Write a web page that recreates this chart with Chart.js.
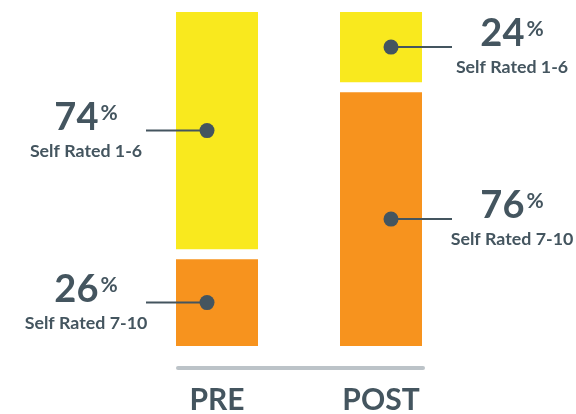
<!DOCTYPE html>
<html>
<head>
<meta charset="utf-8">
<script src="https://cdn.jsdelivr.net/npm/chart.js@4"></script>
<style>
  html, body { margin: 0; padding: 0; background: #fff; }
  #wrap { width: 576px; height: 414px; }
</style>
</head>
<body>
<div id="wrap"><canvas id="chart"></canvas></div>
<script>
// --- data ---
const categories = ['PRE', 'POST'];
const ratedHigh = [26, 76];   // Self Rated 7-10 (bottom)
const ratedLow = [74, 24];    // Self Rated 1-6 (top)
const seriesNames = ['Self Rated 7-10', 'Self Rated 1-6'];

const INK = '#44555f';
const GAP = 10;

// draws the base line under the bars
const baseLine = {
    id: 'baseLine',
    beforeDatasetsDraw(chart) {
        const bars = chart.getDatasetMeta(0).data;
        const first = bars[0], last = bars[bars.length - 1];
        const ctx = chart.ctx;
        const y = chart.chartArea.bottom + 22;
        ctx.save();
        ctx.strokeStyle = '#bcc3c8';
        ctx.lineWidth = 4;
        ctx.lineCap = 'round';
        ctx.beginPath();
        ctx.moveTo(first.x - first.width / 2 + 2, y);
        ctx.lineTo(last.x + last.width / 2 + 1, y);
        ctx.stroke();
        ctx.restore();
    }
};

// dots, leader lines and percentage labels
const callouts = {
    id: 'callouts',
    afterDatasetsDraw(chart) {
        const ctx = chart.ctx;
        chart.data.datasets.forEach((ds, di) => {
            chart.getDatasetMeta(di).data.forEach((bar, i) => {
                const top = bar.y;
                const bottom = di === 1 ? bar.base - GAP : bar.base;
                const cy = (top + bottom) / 2;
                const side = i === 0 ? -1 : 1;
                const dotX = bar.x + side * 10;
                const lineEnd = bar.x + side * 71;
                const cx = lineEnd + side * 60;

                ctx.save();
                ctx.strokeStyle = INK;
                ctx.lineWidth = 2;
                ctx.beginPath();
                ctx.moveTo(dotX, cy);
                ctx.lineTo(lineEnd, cy);
                ctx.stroke();
                ctx.fillStyle = INK;
                ctx.beginPath();
                ctx.arc(dotX, cy, 7.5, 0, Math.PI * 2);
                ctx.fill();

                // big number + small %
                const num = String(ds.data[i]);
                ctx.textBaseline = 'alphabetic';
                ctx.font = 'bold 38px Lato';
                const nw = ctx.measureText(num).width;
                ctx.font = 'bold 21px Lato';
                const pw = ctx.measureText('%').width;
                const startX = cx - (nw + 2 + pw) / 2;
                ctx.textAlign = 'left';
                ctx.font = 'bold 38px Lato';
                ctx.fillText(num, startX, cy - 1);
                ctx.font = 'bold 21px Lato';
                ctx.fillText('%', startX + nw + 2, cy - 11);

                ctx.textAlign = 'center';
                ctx.font = 'bold 17.8px Lato';
                ctx.fillText(ds.label, cx, cy + 26);
                ctx.restore();
            });
        });
    }
};

new Chart(document.getElementById('chart'), {
    type: 'bar',
    data: {
        labels: categories,
        datasets: [
            {
                label: seriesNames[0],
                data: ratedHigh,
                backgroundColor: '#f7931e',
                borderWidth: 0
            },
            {
                label: seriesNames[1],
                data: ratedLow,
                backgroundColor: '#f9e91e',
                borderColor: '#ffffff',
                borderWidth: { top: 0, right: 0, bottom: GAP, left: 0 },
                borderSkipped: false
            }
        ]
    },
    options: {
        responsive: true,
        maintainAspectRatio: false,
        animation: false,
        layout: { padding: { left: 135, right: 113, top: 12, bottom: -40 } },
        plugins: { legend: { display: false }, tooltip: { enabled: false } },
        datasets: { bar: { barPercentage: 1, categoryPercentage: 0.5 } },
        scales: {
            x: {
                stacked: true,
                grid: { display: false, drawTicks: false },
                border: { display: false },
                ticks: {
                    padding: 36,
                    color: INK,
                    font: { family: 'Lato', weight: 'bold', size: 30, lineHeight: 1.2 }
                }
            },
            y: {
                stacked: true,
                display: false,
                min: 0,
                max: 100
            }
        }
    },
    plugins: [baseLine, callouts]
});
</script>
</body>
</html>
